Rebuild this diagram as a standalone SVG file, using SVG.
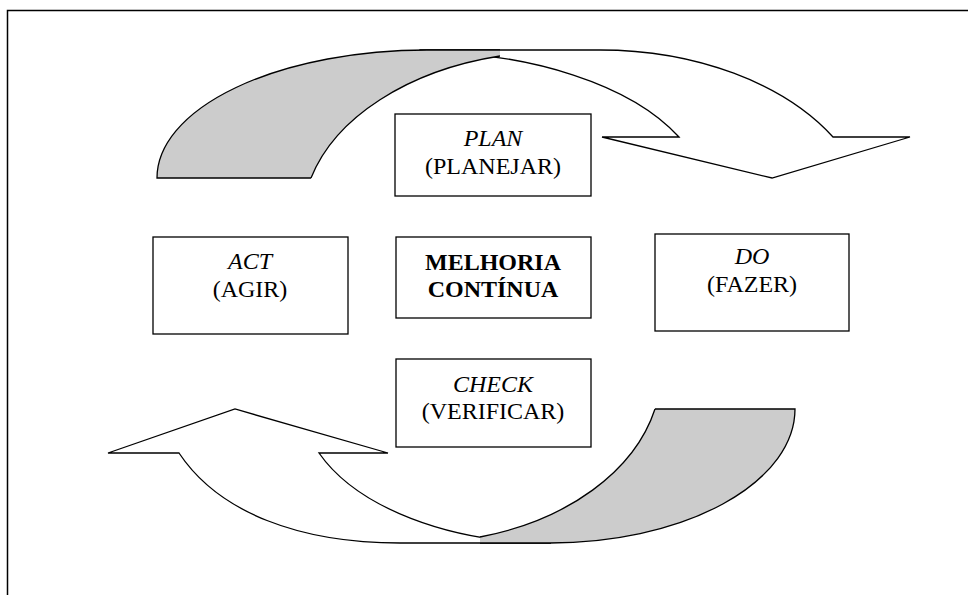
<svg xmlns="http://www.w3.org/2000/svg" width="968" height="595" viewBox="0 0 968 595">
  <style>
    .frame { fill: none; stroke: #000; stroke-width: 1.5; }
    .box { fill: #fff; stroke: #000; stroke-width: 1.3; }
    .face { fill: #fff; stroke: #000; stroke-width: 1.3; stroke-linejoin: miter; }
    .back { fill: #cccccc; stroke: none; }
    .edge { fill: none; stroke: #000; stroke-width: 1.3; }
    text { font-family: "Liberation Serif", "Times New Roman", serif; font-size: 24px; text-anchor: middle; fill: #000; }
    .it { font-style: italic; }
    .b { font-weight: bold; }
  </style>

  <rect class="frame" x="7.5" y="10.5" width="975" height="600"/>

  <g id="connectors">
    <!-- upper curved arrow: front face with head pointing down -->
    <g id="arrow-top">
      <path class="face" d="M420,50 L600,50 A272,180 0 0 1 833,137 L910,137 L772,178 L602,137 L679,137 A286,148 0 0 0 420,52 Z"/>
      <path class="back" d="M157,178 A270,128 0 0 1 427,50 L500,50 L500,56 A257,170 0 0 0 311,178 Z"/>
      <path class="edge" d="M311,178 L157,178 A270,128 0 0 1 427,50 L500,50"/>
      <path class="edge" d="M500,56 A257,170 0 0 0 311,178"/>
    </g>
    <!-- lower curved arrow: front face with head pointing up -->
    <g id="arrow-bottom">
      <path class="face" d="M179,453 L108,453 L235,409 L388,453 L319,453 A250,143 0 0 0 551,543 L400,543 C300,543 219,513 179,453 Z"/>
      <path class="back" d="M655,409 L795,409 A245,134 0 0 1 550,543 L480,543 L480,537 A245,173 0 0 0 655,409 Z"/>
      <path class="edge" d="M655,409 L795,409 A245,134 0 0 1 550,543 L480,543"/>
      <path class="edge" d="M480,537 A245,173 0 0 0 655,409"/>
    </g>
  </g>

  <g id="plan">
    <rect class="box" x="395" y="114" width="196" height="82"/>
    <text class="it" x="493" y="146">PLAN</text>
    <text x="493" y="174">(PLANEJAR)</text>
  </g>

  <g id="act">
    <rect class="box" x="153" y="237" width="195" height="97"/>
    <text class="it" x="250" y="269">ACT</text>
    <text x="250" y="297">(AGIR)</text>
  </g>

  <g id="melhoria">
    <rect class="box" x="396" y="237" width="195" height="81"/>
    <text class="b" x="493" y="270">MELHORIA</text>
    <text class="b" x="493" y="297">CONTÍNUA</text>
  </g>

  <g id="do">
    <rect class="box" x="655" y="234" width="194" height="97"/>
    <text class="it" x="752" y="264">DO</text>
    <text x="752" y="292">(FAZER)</text>
  </g>

  <g id="check">
    <rect class="box" x="396" y="359" width="195" height="88"/>
    <text class="it" x="493" y="392">CHECK</text>
    <text x="493" y="419">(VERIFICAR)</text>
  </g>
</svg>
